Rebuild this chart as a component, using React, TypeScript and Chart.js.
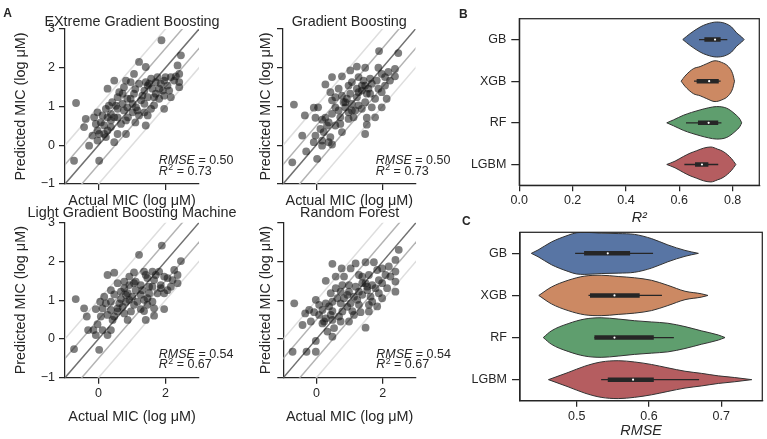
import React, { useEffect, useRef } from "react";
import { Chart, registerables } from "chart.js";

Chart.register(...registerables);

const W = 767;
const H = 439;
const FONT = '"Liberation Sans", Arial, Helvetica, sans-serif';
const INK = "#262626";
const LABEL_SIZE = 14.4;
const TICK_SIZE = 12.5;

// ---------------- scatter data (actual vs predicted, log µM) ----------------
const XGB_ACTUAL = [1.88,2.46,1.21,2.36,1.41,0.47,1.06,2.41,0.27,-0.67,0.76,0.96,0.72,0.57,0.41,0.96,1.12,1.37,1.66,1.96,1.47,1.66,1.96,2.16,2.41,-0.03,0.12,0.37,0.57,0.82,1.02,1.21,0.37,0.17,-0.08,0.02,0.22,0.47,0.82,1.41,-0.38,-0.43,-0.18,-0.28,-0.73,0.02,-0.03,0.27,0.57,0.86,1.27,1.06,0.62,0.82,1.57,1.76,1.96,2.16,2.31,1.47,1.61,1.81,1.92,2.06,1.37,1.21,0.47,0.67,-0.13,0.22,0.37,1.41,1.51,1.71,1.86,2.0,2.26,2.11,1.71,0.86,0.72,1.02,1.16,1.57,0.88,1.1,0.27,0.07,0.17,0.57,2.41,1.31,0.76,0.52,0.31,1.47,1.81,1.37,1.1,-0.03];
const XGB_PRED = [2.71,2.32,2.15,2.06,2.02,1.67,1.84,1.84,1.46,1.09,1.5,1.63,1.33,1.24,1.11,1.2,0.98,1.07,1.03,0.94,0.77,1.24,1.28,1.24,1.5,0.85,0.77,0.81,0.72,0.64,0.85,0.77,0.47,0.51,0.55,0.29,0.21,0.08,0.29,0.51,0.68,0.47,0.25,-0.01,-0.4,-0.4,0.12,0.38,0.94,0.98,1.16,1.33,1.37,1.67,1.72,1.76,1.67,1.76,1.78,1.54,1.46,1.46,1.41,1.54,1.41,1.59,0.72,0.55,0.72,0.94,0.64,1.63,1.59,1.63,1.59,1.76,1.67,1.41,1.33,1.2,1.07,1.07,0.9,0.94,0.72,0.59,0.72,0.59,0.29,0.29,1.63,1.28,0.9,1.02,1.02,1.24,1.2,0.85,1.45,0.38];

const GB_ACTUAL = [1.9,2.48,1.23,1.48,1.88,2.38,0.48,0.78,1.03,0.28,1.08,1.63,1.98,2.38,1.48,1.68,1.38,1.88,2.08,2.13,0.43,0.58,0.78,0.93,1.08,1.28,1.48,1.68,1.98,1.78,-0.67,-0.07,0.06,-0.34,-0.02,0.28,0.48,0.73,0.98,1.18,1.53,1.53,1.48,0.58,0.38,0.58,0.13,0.23,-0.02,-0.42,-0.07,0.18,0.38,0.48,-0.3,0.03,-0.72,0.98,1.23,1.43,1.58,2.08,2.23,0.83,1.03,0.68,0.88,1.23,1.38,0.33,0.18,0.68,1.13,1.63,1.83,2.18,1.28,0.48,0.98,0.73,0.43,1.38,1.53,1.98,0.88,0.18,1.78,0.78,1.28,1.08];
const GB_PRED = [2.43,2.38,2.03,2.0,2.0,1.97,1.76,1.78,1.93,1.57,1.63,1.72,1.84,1.78,1.54,1.59,1.41,1.46,1.54,1.2,1.37,1.24,1.28,1.2,1.07,1.03,1.11,0.98,0.98,1.2,1.05,0.97,0.98,0.77,0.71,0.71,0.81,0.72,0.85,0.9,0.71,0.53,0.29,0.98,0.59,0.51,0.42,0.34,0.25,0.25,0.08,-0.01,0.08,0.02,-0.16,-0.35,-0.44,1.54,1.46,1.67,1.46,1.76,1.67,1.11,1.33,1.46,0.98,1.24,0.94,0.51,0.66,0.9,0.72,1.33,1.67,1.89,1.76,1.16,0.68,0.55,0.21,1.54,1.33,1.37,1.11,0.12,0.72,0.34,1.37,0.9];

const LGBM_ACTUAL = [1.89,1.21,2.46,0.27,0.47,1.06,1.36,1.61,1.81,2.26,2.36,2.36,1.96,1.46,1.66,0.57,0.77,0.92,1.11,1.26,1.51,1.86,2.06,1.96,1.76,0.37,0.47,0.67,0.87,1.01,1.26,1.46,1.61,1.96,1.36,1.66,1.41,-0.68,0.05,0.22,0.37,0.62,0.82,1.06,-0.43,-0.08,0.12,0.37,0.57,0.77,0.27,0.47,-0.35,0.07,0.87,-0.03,-0.15,-0.31,0.12,0.37,0.27,-0.73,0.02,-0.08,0.67,0.92,1.16,1.31,1.51,2.16,2.21,1.71,1.41,0.92,0.77,1.11,0.17,0.57,0.97,1.26,1.46,1.66,1.86,2.06,1.61,0.72,0.42,1.06,0.82,1.36];
const LGBM_PRED = [2.41,2.17,2.01,1.65,1.71,1.72,1.74,1.74,1.74,1.78,1.65,1.44,1.61,1.57,1.52,1.44,1.48,1.39,1.48,1.39,1.35,1.31,1.26,1.18,1.18,1.26,1.15,1.22,1.18,1.09,1.14,1.05,0.96,0.77,0.72,0.6,0.49,1.03,0.96,0.92,0.96,0.92,0.96,0.88,0.79,0.77,0.79,0.75,0.71,0.66,0.62,0.58,0.58,0.58,0.49,0.38,0.23,0.23,0.23,0.23,0.1,-0.26,-0.28,0.1,1.03,1.01,0.96,1.26,1.18,1.35,1.52,1.65,1.65,1.61,1.31,1.26,1.09,0.79,0.71,0.77,0.88,0.79,1.39,1.57,1.35,0.83,0.49,1.44,1.14,1.01];

const RF_ACTUAL = [2.48,0.48,1.18,1.48,1.73,0.76,1.03,1.98,2.18,2.38,2.38,0.28,0.83,1.38,1.58,2.08,1.88,1.48,1.68,2.38,2.38,2.13,0.98,1.18,0.58,0.73,0.43,0.93,1.13,1.38,1.63,1.88,1.98,1.68,-0.67,-0.02,0.28,0.48,0.73,1.03,1.28,1.58,1.33,1.08,-0.22,-0.07,0.18,0.48,0.78,-0.34,0.08,0.28,0.48,0.68,-0.42,-0.17,0.23,0.53,0.33,0.48,-0.02,-0.72,-0.3,-0.02,1.48,0.98,0.83,1.28,1.53,1.78,0.63,0.98,1.38,1.98,2.23,1.83,1.28,0.93,0.73,0.18,0.43,1.13,1.58,1.53,1.83,0.38,0.08,1.23,0.78,0.58];
const RF_PRED = [2.3,1.94,1.95,1.98,1.98,1.82,1.82,1.82,1.87,2.04,1.74,1.5,1.61,1.61,1.65,1.65,1.52,1.44,1.39,1.48,1.22,1.31,1.39,1.35,1.31,1.22,1.18,1.14,1.09,1.14,1.09,1.18,1.05,0.96,0.92,1.01,0.92,0.96,0.92,0.92,0.88,0.88,0.69,0.72,0.75,0.69,0.75,0.72,0.71,0.66,0.62,0.53,0.49,0.58,0.36,0.45,0.45,0.28,0.19,0.06,-0.05,-0.33,-0.33,-0.33,0.29,0.45,1.05,1.22,1.26,1.31,1.05,1.22,1.44,1.44,1.61,1.78,1.65,0.83,0.45,0.4,0.62,0.62,0.71,1.35,0.84,0.84,0.88,1.01,1.39,1.61];

const SCATTER_LIMITS = [-1, 3];
const SCATTER_X_TICKS = [0, 2];
const SCATTER_Y_TICKS = [-1, 0, 1, 2, 3];
const REF_X = [-2, 4];
const REF_OFFSETS = [1, -1, 0.5, -0.5, 0];
const REF_COLORS = ["#dedede", "#dedede", "#b3b3b3", "#b3b3b3", "#707070"];

const MODEL_TITLES = ["EXtreme Gradient Boosting", "Gradient Boosting", "Light Gradient Boosting Machine", "Random Forest"];
const MODEL_RMSE = ["0.50", "0.50", "0.54", "0.54"];
const MODEL_R2 = ["0.73", "0.73", "0.67", "0.67"];

// ---------------- violin data ----------------
const VIOLIN_CATS = ["GB", "XGB", "RF", "LGBM"];
const VIOLIN_COLORS = ["#5875a4", "#cc8963", "#5f9e6e", "#b55d60"];

// R² distributions: value grid and half width (in category units)
const R2_GB_AT = [0.613,0.64,0.678,0.703,0.74,0.771,0.796,0.815,0.834,0.843];
const R2_GB_HALF = [0,0.14,0.3,0.37,0.42,0.39,0.3,0.16,0.06,0];
const R2_XGB_AT = [0.607,0.621,0.653,0.678,0.703,0.734,0.759,0.784,0.8,0.807];
const R2_XGB_HALF = [0,0.12,0.3,0.35,0.42,0.49,0.45,0.35,0.18,0];
const R2_RF_AT = [0.553,0.578,0.615,0.646,0.678,0.709,0.74,0.778,0.809,0.828,0.834];
const R2_RF_HALF = [0,0.07,0.18,0.25,0.31,0.36,0.39,0.35,0.21,0.08,0];
const R2_LGBM_AT = [0.553,0.584,0.615,0.64,0.665,0.69,0.718,0.743,0.765,0.796,0.812];
const R2_LGBM_HALF = [0,0.08,0.19,0.27,0.33,0.39,0.42,0.37,0.31,0.14,0];
const R2_WHISKER_LO = [0.674, 0.655, 0.625, 0.619];
const R2_WHISKER_HI = [0.78, 0.755, 0.758, 0.746];
const R2_Q1 = [0.694, 0.665, 0.67, 0.659];
const R2_Q3 = [0.755, 0.748, 0.746, 0.709];
const R2_MEDIAN = [0.734, 0.712, 0.71, 0.685];
const R2_TICKS = [0, 0.2, 0.4, 0.6, 0.8];
const R2_LIMITS = [0, 0.9];

// RMSE distributions
const RMSE_GB_AT = [0.4371,0.4464,0.4649,0.488,0.4998,0.5111,0.5337,0.5573,0.5799,0.6035,0.6261,0.6498,0.6683];
const RMSE_GB_HALF = [0,0.08,0.27,0.43,0.49,0.5,0.48,0.47,0.45,0.35,0.2,0.07,0];
const RMSE_XGB_AT = [0.4474,0.4649,0.488,0.5111,0.5337,0.5573,0.5799,0.6035,0.6261,0.6498,0.6724,0.6816];
const RMSE_XGB_HALF = [0,0.2,0.36,0.46,0.48,0.45,0.42,0.36,0.24,0.1,0.04,0];
const RMSE_RF_AT = [0.4536,0.4649,0.488,0.5111,0.5337,0.5573,0.5799,0.6035,0.6261,0.6498,0.6724,0.696,0.7052];
const RMSE_RF_HALF = [0,0.16,0.33,0.44,0.47,0.44,0.4,0.37,0.34,0.26,0.16,0.06,0];
const RMSE_LGBM_AT = [0.4608,0.488,0.5111,0.5337,0.5573,0.5799,0.6035,0.6261,0.6498,0.6724,0.696,0.7186,0.7422];
const RMSE_LGBM_HALF = [0,0.17,0.32,0.42,0.45,0.42,0.36,0.28,0.2,0.15,0.09,0.05,0];
const RMSE_WHISKER_LO = [0.4977, 0.5162, 0.5244, 0.5337];
const RMSE_WHISKER_HI = [0.6056, 0.6179, 0.6344, 0.6693];
const RMSE_Q1 = [0.5101, 0.5183, 0.5244, 0.5429];
const RMSE_Q3 = [0.5738, 0.5871, 0.6066, 0.6066];
const RMSE_MEDIAN = [0.5429, 0.5522, 0.5522, 0.5779];
const RMSE_TICKS = [0.5, 0.6, 0.7];
const RMSE_LIMITS = [0.4214, 0.7568];

// ---------------- layout helpers ----------------
type Box = { l: number; t: number; r: number; b: number; yTitleX?: number; xTitleY: number; titleY?: number };

const BOX_XGB: Box = { l: 65, t: 29, r: 199, b: 184, yTitleX: 20.6, xTitleY: 200.8, titleY: 21.8 };
const BOX_GB: Box = { l: 283, t: 29, r: 415.5, b: 184, yTitleX: 266, xTitleY: 200.8, titleY: 21.8 };
const BOX_LGBM: Box = { l: 65, t: 222.7, r: 199, b: 377.7, yTitleX: 20.6, xTitleY: 416.8, titleY: 212.9 };
const BOX_RF: Box = { l: 283.3, t: 222.7, r: 416, b: 377.7, yTitleX: 266, xTitleY: 416.8, titleY: 213 };
const BOX_R2: Box = { l: 519.3, t: 18.7, r: 759.3, b: 185.3, xTitleY: 217.5 };
const BOX_RMSE: Box = { l: 520, t: 232.3, r: 762.3, b: 400.7, xTitleY: 431 };

function computeLayout(box: Box) {
  const lh = LABEL_SIZE * 1.2;
  const padLeft = box.yTitleX !== undefined ? box.yTitleX - lh / 2 : 0;
  const xScaleBottom = box.xTitleY + lh / 2;
  return {
    padding: { left: padLeft, right: W - box.r, top: box.t, bottom: H - xScaleBottom },
    yWidth: box.l - padLeft,
    xHeight: xScaleBottom - box.b,
  };
}

const minus = (v: number) => String(v).replace("-", "\u2212");

function titlePlugin(text: string, y: number) {
  return {
    id: "panelTitle",
    afterDraw(chart: any) {
      const { ctx, chartArea: a } = chart;
      ctx.save();
      ctx.fillStyle = INK;
      ctx.font = `${LABEL_SIZE}px ${FONT}`;
      ctx.textAlign = "center";
      ctx.textBaseline = "middle";
      ctx.fillText(text, (a.left + a.right) / 2, y);
      ctx.restore();
    },
  };
}

function statsPlugin(rmse: string, r2: string) {
  return {
    id: "stats",
    afterDatasetsDraw(chart: any) {
      const { ctx, chartArea: a } = chart;
      const x0 = a.left + 0.7 * (a.right - a.left);
      const y1 = a.bottom - 20;
      const y2 = a.bottom - 9.5;
      const fs = 12.5;
      ctx.save();
      ctx.fillStyle = INK;
      ctx.textAlign = "left";
      ctx.textBaseline = "alphabetic";
      ctx.font = `italic ${fs}px ${FONT}`;
      ctx.fillText("RMSE", x0, y1);
      let w = ctx.measureText("RMSE").width;
      ctx.font = `${fs}px ${FONT}`;
      ctx.fillText(` = ${rmse}`, x0 + w, y1);
      ctx.font = `italic ${fs}px ${FONT}`;
      ctx.fillText("R", x0, y2);
      w = ctx.measureText("R").width + 0.5;
      ctx.font = `${fs * 0.7}px ${FONT}`;
      ctx.fillText("2", x0 + w, y2 - 4.5);
      w += ctx.measureText("2").width;
      ctx.font = `${fs}px ${FONT}`;
      ctx.fillText(` = ${r2}`, x0 + w, y2);
      ctx.restore();
    },
  };
}

const lettersPlugin = {
  id: "letters",
  afterDraw(chart: any) {
    const ctx = chart.ctx;
    ctx.save();
    ctx.fillStyle = INK;
    ctx.font = `bold 12px ${FONT}`;
    ctx.textAlign = "left";
    ctx.textBaseline = "alphabetic";
    ctx.fillText("A", 3.3, 16.7);
    ctx.fillText("B", 459, 18.3);
    ctx.fillText("C", 462, 225);
    ctx.restore();
  },
};

const framePlugin = {
  id: "frame",
  afterDatasetsDraw(chart: any) {
    const { ctx, chartArea: a } = chart;
    ctx.save();
    ctx.strokeStyle = INK;
    ctx.lineWidth = 1.25;
    ctx.strokeRect(a.left, a.top, a.right - a.left, a.bottom - a.top);
    ctx.restore();
  },
};

function scatterConfig(actual: number[], pred: number[], idx: number, box: Box, showX: boolean, showY: boolean, extra: any[] = []) {
  const lay = computeLayout(box);
  const tickFont = { family: FONT, size: TICK_SIZE };
  const labelFont = { family: FONT, size: LABEL_SIZE };
  const axis = (ticks: number[], show: boolean, text: string, isX: boolean) => ({
    type: "linear",
    min: SCATTER_LIMITS[0],
    max: SCATTER_LIMITS[1],
    afterBuildTicks: (s: any) => {
      s.ticks = ticks.map((v) => ({ value: v }));
    },
    afterFit: (s: any) => {
      if (isX) s.height = lay.xHeight;
      else s.width = lay.yWidth;
    },
    ticks: { display: show, color: INK, font: tickFont, padding: isX ? 2 : 4, callback: (v: number) => minus(v) },
    grid: { display: true, drawOnChartArea: false, drawTicks: true, tickLength: 6, color: INK, lineWidth: 1.25 },
    border: { display: true, color: INK, width: 1.25 },
    title: { display: true, text, color: INK, font: labelFont, padding: 0 },
  });
  const refSets = REF_OFFSETS.map((off, i) => ({
    data: REF_X.map((x) => ({ x, y: x + off })),
    showLine: true,
    borderColor: REF_COLORS[i],
    borderWidth: 1.5,
    pointRadius: 0,
    fill: false,
    order: 2,
  }));
  return {
    type: "line",
    data: {
      datasets: [
        {
          data: actual.map((x, i) => ({ x, y: pred[i] })),
          showLine: false,
          pointRadius: 3.9,
          pointBackgroundColor: "rgba(20,20,20,0.55)",
          pointBorderWidth: 0,
          order: 0,
        },
        ...refSets,
      ],
    },
    options: {
      animation: false,
      responsive: false,
      devicePixelRatio: 1,
      events: [],
      layout: { padding: lay.padding },
      plugins: { legend: { display: false }, tooltip: { enabled: false } },
      scales: {
        x: axis(SCATTER_X_TICKS, showX, "Actual MIC (log \u03bcM)", true),
        y: axis(SCATTER_Y_TICKS, showY, "Predicted MIC (log \u03bcM)", false),
      },
    },
    plugins: [statsPlugin(MODEL_RMSE[idx], MODEL_R2[idx]), titlePlugin(MODEL_TITLES[idx], box.titleY as number), ...extra],
  };
}

function violinConfig(
  profiles: [number[], number[]][],
  lo: number[], hi: number[], q1: number[], q3: number[], med: number[],
  lim: number[], xTicks: number[], xTitle: string, box: Box, extra: any[] = []
) {
  const lay = computeLayout(box);
  const datasets: any[] = [];
  profiles.forEach(([at, half], i) => {
    const common = {
      showLine: true,
      borderColor: "#333333",
      borderWidth: 1,
      pointRadius: 0,
      cubicInterpolationMode: "monotone",
      order: 5,
    };
    datasets.push({ ...common, data: at.map((v, k) => ({ x: v, y: i - half[k] })), fill: false });
    datasets.push({ ...common, data: at.map((v, k) => ({ x: v, y: i + half[k] })), fill: "-1", backgroundColor: VIOLIN_COLORS[i] });
  });
  VIOLIN_CATS.forEach((_, i) => {
    datasets.push({ data: [{ x: lo[i], y: i }, { x: hi[i], y: i }], showLine: true, borderColor: INK, borderWidth: 1.3, pointRadius: 0, fill: false, order: 2 });
    datasets.push({ data: [{ x: q1[i], y: i }, { x: q3[i], y: i }], showLine: true, borderColor: INK, borderWidth: 4.5, pointRadius: 0, fill: false, order: 1 });
    datasets.push({ data: [{ x: med[i], y: i }], showLine: false, pointRadius: 1.1, pointBackgroundColor: "#ffffff", pointBorderWidth: 0, order: 0 });
  });
  const tickFont = { family: FONT, size: TICK_SIZE };
  return {
    type: "line",
    data: { datasets },
    options: {
      animation: false,
      responsive: false,
      devicePixelRatio: 1,
      events: [],
      layout: { padding: lay.padding },
      plugins: { legend: { display: false }, tooltip: { enabled: false } },
      scales: {
        x: {
          type: "linear",
          min: lim[0],
          max: lim[1],
          afterBuildTicks: (s: any) => {
            s.ticks = xTicks.map((v) => ({ value: v }));
          },
          afterFit: (s: any) => {
            s.height = lay.xHeight;
          },
          ticks: { color: INK, font: tickFont, padding: 2, callback: (v: number) => v.toFixed(1) },
          grid: { display: true, drawOnChartArea: false, drawTicks: true, tickLength: 6, color: INK, lineWidth: 1.25 },
          border: { display: true, color: INK, width: 1.25 },
          title: { display: true, text: xTitle, color: INK, font: { family: FONT, size: LABEL_SIZE, style: "italic" }, padding: 0 },
        },
        y: {
          type: "linear",
          reverse: true,
          min: -0.5,
          max: 3.5,
          afterBuildTicks: (s: any) => {
            s.ticks = VIOLIN_CATS.map((_, i) => ({ value: i }));
          },
          afterFit: (s: any) => {
            s.width = lay.yWidth;
          },
          ticks: { color: INK, font: tickFont, padding: 5, callback: (v: number) => VIOLIN_CATS[v] },
          grid: { display: true, drawOnChartArea: false, drawTicks: true, tickLength: 8, color: INK, lineWidth: 1.25 },
          border: { display: true, color: INK, width: 1.25 },
        },
      },
    },
    plugins: [framePlugin, ...extra],
  };
}

function ChartCanvas({ make }: { make: () => any }) {
  const ref = useRef<HTMLCanvasElement>(null);
  useEffect(() => {
    const chart = new Chart(ref.current as HTMLCanvasElement, make());
    return () => chart.destroy();
  }, []);
  return (
    <canvas
      ref={ref}
      width={W}
      height={H}
      style={{ position: "absolute", left: 0, top: 0, width: W, height: H }}
    />
  );
}

export default function App() {
  return (
    <div style={{ position: "absolute", left: 0, top: 0, width: W, height: H, background: "#ffffff", overflow: "hidden" }}>
      <ChartCanvas make={() => scatterConfig(XGB_ACTUAL, XGB_PRED, 0, BOX_XGB, false, true, [lettersPlugin])} />
      <ChartCanvas make={() => scatterConfig(GB_ACTUAL, GB_PRED, 1, BOX_GB, false, false)} />
      <ChartCanvas make={() => scatterConfig(LGBM_ACTUAL, LGBM_PRED, 2, BOX_LGBM, true, true)} />
      <ChartCanvas make={() => scatterConfig(RF_ACTUAL, RF_PRED, 3, BOX_RF, true, false)} />
      <ChartCanvas
        make={() =>
          violinConfig(
            [[R2_GB_AT, R2_GB_HALF], [R2_XGB_AT, R2_XGB_HALF], [R2_RF_AT, R2_RF_HALF], [R2_LGBM_AT, R2_LGBM_HALF]],
            R2_WHISKER_LO, R2_WHISKER_HI, R2_Q1, R2_Q3, R2_MEDIAN, R2_LIMITS, R2_TICKS, "R\u00b2", BOX_R2
          )
        }
      />
      <ChartCanvas
        make={() =>
          violinConfig(
            [[RMSE_GB_AT, RMSE_GB_HALF], [RMSE_XGB_AT, RMSE_XGB_HALF], [RMSE_RF_AT, RMSE_RF_HALF], [RMSE_LGBM_AT, RMSE_LGBM_HALF]],
            RMSE_WHISKER_LO, RMSE_WHISKER_HI, RMSE_Q1, RMSE_Q3, RMSE_MEDIAN, RMSE_LIMITS, RMSE_TICKS, "RMSE", BOX_RMSE
          )
        }
      />
    </div>
  );
}
